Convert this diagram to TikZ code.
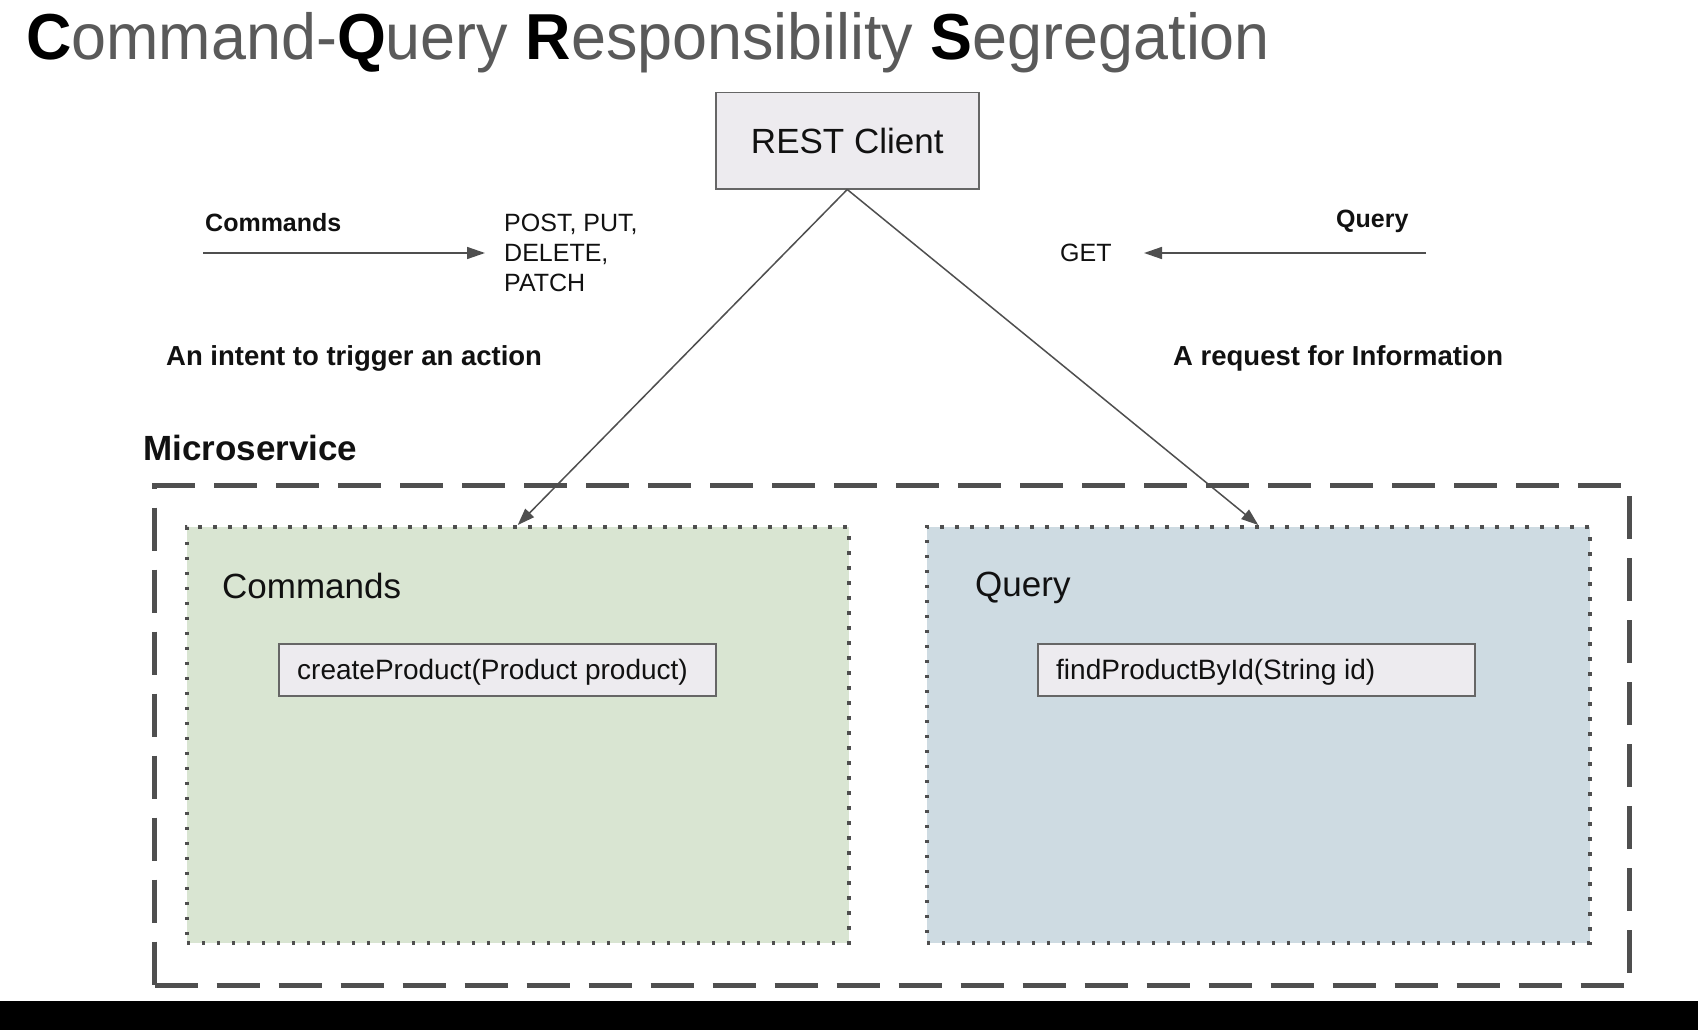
\documentclass[tikz,border=0pt]{standalone}
\usepackage{fontspec}
\setmainfont{Liberation Sans}
\usetikzlibrary{arrows.meta}
\definecolor{boxgray}{HTML}{EDEBEF}
\definecolor{edgegray}{HTML}{666666}
\definecolor{linegray}{HTML}{4F4F4F}
\definecolor{cmdgreen}{HTML}{D9E5D2}
\definecolor{qryblue}{HTML}{CEDBE2}
\definecolor{titlegray}{HTML}{5A5A5A}
\definecolor{txt}{HTML}{111111}
\newcommand\fsz[2]{\fontsize{#1}{#2}\selectfont}
\tikzset{
  lbl/.style={anchor=base west, inner sep=0pt, text=txt},
  graybox/.style={draw=edgegray, line width=1.5pt, fill=boxgray, anchor=north west, inner sep=0pt},
  area/.style={draw=linegray, line width=3.5pt, dash pattern=on 3.5pt off 11.5pt, anchor=north west, inner sep=0pt},
  conn/.style={draw=linegray, line width=1.5pt, -{Triangle[length=17pt,width=12pt]}},
  thinconn/.style={draw=linegray, line width=1.5pt, -{Triangle[length=18pt,width=12pt]}},
}
\begin{document}
\begin{tikzpicture}[x=1pt,y=-1pt]
\useasboundingbox (0,0) rectangle (1698,1030);
\fill[white] (0,0) rectangle (1698,1030);
\fill[black] (0,1001) rectangle (1698,1030);

% title
\node[lbl, text=titlegray] (title) at (26,60) {\scalebox{0.967}[1]{\fsz{65}{78}\textcolor{black}{\textbf{C}}ommand-\textcolor{black}{\textbf{Q}}uery \textcolor{black}{\textbf{R}}esponsibility \textcolor{black}{\textbf{S}}egregation}};

% REST client
\node[graybox, minimum width=263pt, minimum height=96pt] (rest) at (715,92) {};
\node[inner sep=0pt, text=txt] (restlbl) at (rest.center) {\fsz{35}{42}REST Client};

% left labels
\node[lbl] (cmdhead) at (205,231) {\fsz{25}{30}\textbf{Commands}};
\coordinate (cmdA) at (203,253);
\coordinate (cmdB) at (485,253);
\draw[thinconn] (cmdA) -- (cmdB);
\node[lbl] (post) at (504,231) {\fsz{25}{30}POST, PUT,};
\node[lbl] (delete) at (504,261) {\fsz{25}{30}DELETE,};
\node[lbl] (patch) at (504,291) {\fsz{25}{30}PATCH};
\node[lbl] (intent) at (166,365) {\fsz{27.5}{33}\textbf{An intent to trigger an action}};

% right labels
\node[lbl] (qryhead) at (1336,227) {\fsz{25}{30}\textbf{Query}};
\coordinate (qryA) at (1426,253);
\coordinate (qryB) at (1144,253);
\draw[thinconn] (qryA) -- (qryB);
\node[lbl] (get) at (1060,261) {\fsz{25}{30}GET};
\node[lbl] (request) at (1173,365) {\fsz{27.5}{33}\textbf{A request for Information}};

% microservice
\node[lbl] (micro) at (143,460) {\fsz{35}{42}\textbf{Microservice}};
\node[draw=linegray, line width=5pt, dash pattern=on 43pt off 19pt, anchor=north west, inner sep=0pt,
      minimum width=1475pt, minimum height=500pt] (ms) at (152,483) {};

% commands area
\node[area, fill=cmdgreen, minimum width=662pt, minimum height=416pt] (cmd) at (185,525) {};
\node[lbl] (cmdtitle) at (222,598) {\fsz{35}{42}Commands};
\node[graybox, minimum width=437pt, minimum height=52pt] (create) at (278,643) {};
\node[lbl] (createlbl) at (297,679) {\fsz{28}{34}createProduct(Product product)};

% query area
\node[area, fill=qryblue, minimum width=663pt, minimum height=416pt] (qry) at (925,525) {};
\node[lbl] (qrytitle) at (975,596) {\fsz{35}{42}Query};
\node[graybox, minimum width=437pt, minimum height=52pt] (find) at (1037,643) {};
\node[lbl] (findlbl) at (1056,679) {\fsz{28}{34}findProductById(String id)};

% connectors
\draw[conn] (rest.south) -- (cmd.north);
\draw[conn] (rest.south) -- (qry.north);
\end{tikzpicture}
\end{document}
